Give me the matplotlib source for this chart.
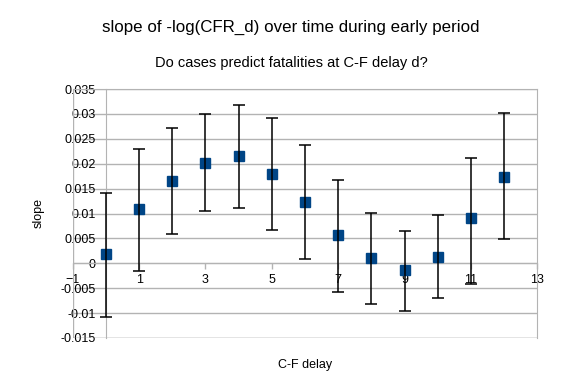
import matplotlib
matplotlib.use("Agg")
import matplotlib.pyplot as plt
import numpy as np

plt.rcParams["font.family"] = ["Liberation Sans", "DejaVu Sans"]

# values
delay = [0, 1, 2, 3, 4, 5, 6, 7, 8, 9, 10, 11, 12]
slope = [0.0018, 0.0109, 0.0165, 0.0202, 0.0215, 0.0179, 0.0124,
         0.0056, 0.0011, -0.0014, 0.0013, 0.0090, 0.0174]
err_low = [-0.0108, -0.0015, 0.0058, 0.0106, 0.0112, 0.0066, 0.0009,
           -0.0057, -0.0081, -0.0095, -0.0069, -0.0041, 0.0048]
err_high = [0.0141, 0.0230, 0.0272, 0.0299, 0.0317, 0.0292, 0.0238,
            0.0168, 0.0102, 0.0065, 0.0096, 0.0212, 0.0301]
xticks = [-1, 1, 3, 5, 7, 9, 11, 13]
yticks = [-0.015, -0.01, -0.005, 0, 0.005, 0.01, 0.015, 0.02, 0.025, 0.03, 0.035]

grey = "#b3b3b3"
blue = "#004586"

fig = plt.figure(figsize=(5.82, 3.82), dpi=100)
ax = fig.add_axes([72.7 / 582, 44 / 382, 464.6 / 582, 249 / 382])

s = np.array(slope)
yerr = [s - np.array(err_low), np.array(err_high) - s]

ax.plot(delay, slope, linestyle="none", marker="s", markersize=7.7,
        color=blue, markeredgecolor=blue, zorder=3)
ax.errorbar(delay, slope, yerr=yerr, fmt="none", ecolor="black",
            elinewidth=1.1, capsize=4, capthick=1.1, zorder=4)

ax.set_xlim(-1, 13)
ax.set_ylim(-0.015, 0.035)
ax.set_xticks(xticks)
ax.set_yticks(yticks)
ax.set_yticklabels(["%g" % v for v in yticks])

ax.grid(axis="y", color=grey, linewidth=1)
ax.set_axisbelow(True)
ax.axvline(-1, color=grey, linewidth=1, zorder=1)
ax.axhline(-0.015, color=grey, linewidth=1, zorder=1)

for side in ["top", "right"]:
    ax.spines[side].set_color(grey)
ax.spines["left"].set_position(("data", 0))
ax.spines["bottom"].set_position(("data", 0))
ax.spines["left"].set_color(grey)
ax.spines["bottom"].set_color(grey)

ax.tick_params(axis="y", length=0, pad=7.5, labelsize=9)
ax.tick_params(axis="x", direction="out", length=4, width=1, color=grey,
               pad=4, labelsize=9)

fig.text(0.5, 1 - 27 / 382, "slope of -log(CFR_d) over time during early period",
         ha="center", va="center", fontsize=12.2)
fig.text(0.5, 1 - 63 / 382, "Do cases predict fatalities at C-F delay d?",
         ha="center", va="center", fontsize=10.5)
fig.text(305 / 582, 1 - 365 / 382, "C-F delay", ha="center", va="center", fontsize=9)
fig.text(39 / 582, 1 - 213 / 382, "slope", ha="center", va="center",
         rotation=90, fontsize=9)

fig.savefig("out.png", dpi=100)
